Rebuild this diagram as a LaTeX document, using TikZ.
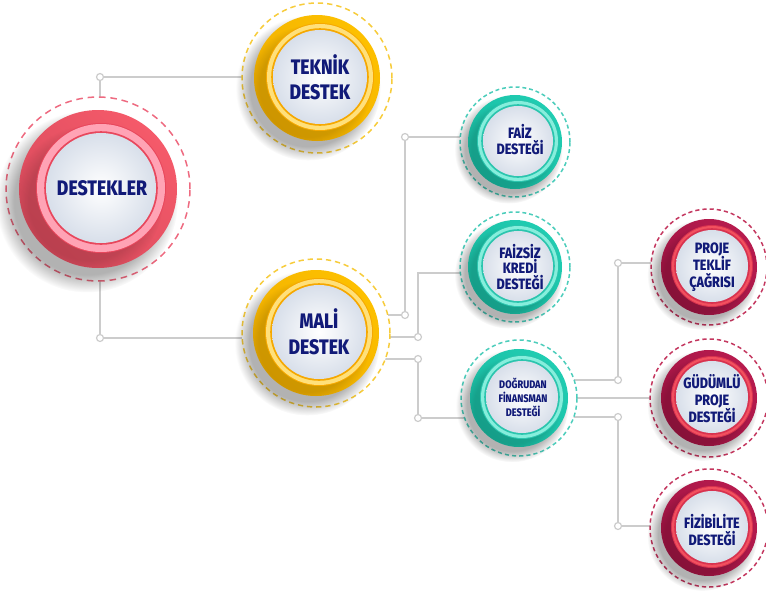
\documentclass[tikz,border=0pt]{standalone}
\usepackage{fontspec}
\setmainfont{Fira Sans}[FakeStretch=0.84, BoldFont={Fira Sans ExtraBold}]
\usetikzlibrary{fadings}
\pgfdeclarelayer{background}
\pgfsetlayers{background,main}
\definecolor{redMain}{HTML}{F55A6A}
\definecolor{redDark}{HTML}{D84A5C}
\definecolor{redRing}{HTML}{FFA3B5}
\definecolor{redLine}{HTML}{E8475C}
\definecolor{redDash}{HTML}{EE6A80}
\definecolor{yelMain}{HTML}{FDC000}
\definecolor{yelDark}{HTML}{EFAE00}
\definecolor{yelRing}{HTML}{FFE07A}
\definecolor{yelLine}{HTML}{F6A800}
\definecolor{yelDash}{HTML}{F7CC3C}
\definecolor{tealMain}{HTML}{20CDB2}
\definecolor{tealDark}{HTML}{19B89F}
\definecolor{tealRing}{HTML}{86EEDC}
\definecolor{tealLine}{HTML}{2BC5AE}
\definecolor{tealDash}{HTML}{4CCDBB}
\definecolor{crimMain}{HTML}{B71B4E}
\definecolor{crimDark}{HTML}{9E1442}
\definecolor{crimRing}{HTML}{F2505F}
\definecolor{crimLine}{HTML}{D8324F}
\definecolor{crimDash}{HTML}{C4375F}
\definecolor{innerEdge}{HTML}{D8DFEA}
\definecolor{navy}{HTML}{111A78}
\definecolor{connGrey}{HTML}{CCCCCC}
\newcommand\bubble[8]{%
  \pgfmathsetmacro\dl{#4/14}\pgfmathsetmacro\gl{#4/19}%
  \node[dashring, draw=#8Dash, minimum size={2*(#4)*1pt}, dash pattern=on \dl pt off \gl pt] (#1) at (#2,#3) {};
  \fill[black, opacity=0.3, path fading=circle with fuzzy edge 20 percent] (#2-0.14*#5,#3+0.16*#5) circle ({(#5*1.15)*1pt});
  \shade[top color=#8Main, middle color=#8Main, bottom color=#8Dark, shading angle=-45] (#1.center) circle ({(#5)*1pt});
  \begin{scope}
    \clip (#1.center) circle ({(#5)*1pt});
    \fill[black, opacity=0.14, path fading=circle with fuzzy edge 20 percent] (#2-0.12*#5,#3+0.14*#5) circle ({(#6*1.15)*1pt});
  \end{scope}
  \fill[#8Line] (#2+3,#3-1) circle ({(#6)*1pt});
  \fill[#8Ring] (#2+3,#3-1) circle ({(#6-1)*1pt});
  \fill[#8Line] (#2+3,#3-1) circle ({(#7+1.8)*1pt});
  \shade[inner color=white, outer color=innerEdge] (#2+3,#3-1) circle ({(#7)*1pt});
}
\begin{document}
\begin{tikzpicture}[x=1pt,y=-1pt,
  dashring/.style={circle, fill=white, line width=1.5pt, inner sep=0pt},
  conn/.style={draw=connGrey, line width=1.4pt},
  jdot/.style={circle, draw=connGrey, fill=white, line width=1.2pt, minimum size=7pt, inner sep=0pt},
  lbl/.style={align=center, text=navy, inner sep=0pt},
  fBig/.style={font=\bfseries\fontsize{21}{25}\selectfont},
  fMid/.style={font=\bfseries\fontsize{15}{16}\selectfont},
  fPro/.style={font=\bfseries\fontsize{15}{17}\selectfont},
  fSmall/.style={font=\bfseries\fontsize{11}{14}\selectfont}]
\useasboundingbox (0,0) rectangle (766,592);

\bubble{d}{98}{189}{92}{79}{65}{55}{red}
\bubble{t}{317}{78}{75}{63}{54}{47}{yel}
\bubble{m}{316}{333}{74}{63}{54}{47}{yel}
\bubble{f}{515}{142}{55}{47}{41}{35}{teal}
\bubble{fs}{515}{267}{55}{47}{41}{35}{teal}
\bubble{dg}{519}{398}{58}{49}{42}{36}{teal}
\bubble{p}{709}{267}{58}{48}{41}{36}{crim}
\bubble{g}{709}{398}{59}{48}{41}{36}{crim}
\bubble{fz}{709}{528}{59}{48}{41}{36}{crim}

\node[lbl,fBig] at ([shift={(4,-1)}]d.center) {DESTEKLER};
\node[lbl,fBig] at ([shift={(3,-1)}]t.center) {TEKNİK\\DESTEK};
\node[lbl,fBig,font=\bfseries\fontsize{21}{26}\selectfont] at ([shift={(3,-1)}]m.center) {MALİ\\DESTEK};
\node[lbl,fMid] at ([shift={(5,-2)}]f.center) {FAİZ\\DESTEĞİ};
\node[lbl,fMid,font=\bfseries\fontsize{15}{15.5}\selectfont] at ([shift={(5,0)}]fs.center) {FAİZSİZ\\KREDİ\\DESTEĞİ};
\node[lbl,fSmall] at ([shift={(4,-1)}]dg.center) {DOĞRUDAN\\FİNANSMAN\\DESTEĞİ};
\node[lbl,fPro] at ([shift={(3,0)}]p.center) {PROJE\\TEKLİF\\ÇAĞRISI};
\node[lbl,fPro] at ([shift={(3,1)}]g.center) {GÜDÜMLÜ\\PROJE\\DESTEĞİ};
\node[lbl,fPro] at ([shift={(3,2)}]fz.center) {FİZİBİLİTE\\DESTEĞİ};

\node[jdot] (j1) at (100,77) {};
\node[jdot] (j2) at (100,338) {};
\node[jdot] (j3) at (405,315) {};
\node[jdot] (j4) at (405,137) {};
\node[jdot] (j5) at (418,337) {};
\coordinate (c6) at (418,273);
\node[jdot] (j7) at (418,359) {};
\node[jdot] (j8) at (418,418) {};
\node[jdot] (j9) at (618,380) {};
\node[jdot] (j10) at (618,263) {};
\node[jdot] (j11) at (618,417) {};
\node[jdot] (j12) at (618,526) {};

\begin{pgfonlayer}{background}
\draw[conn] (j1.center |- d.center) -- (j1.center) -- (j1.center -| t.center);
\draw[conn] (j2.center |- d.center) -- (j2.center) -- (j2.center -| m.center);
\draw[conn] (j3.center -| m.center) -- (j3.center) -- (j4.center) -- (j4.center -| f.center);
\draw[conn] (j5.center -| m.center) -- (j5.center) -- (c6) -- (c6 -| fs.center);
\draw[conn] (j7.center -| m.center) -- (j7.center) -- (j8.center) -- (j8.center -| dg.center);
\draw[conn] (j9.center -| dg.center) -- (j9.center) -- (j10.center) -- (j10.center -| p.center);
\draw[conn] (dg.center) -- (g.center);
\draw[conn] (j11.center -| dg.center) -- (j11.center) -- (j12.center) -- (j12.center -| fz.center);
\end{pgfonlayer}
\end{tikzpicture}
\end{document}
